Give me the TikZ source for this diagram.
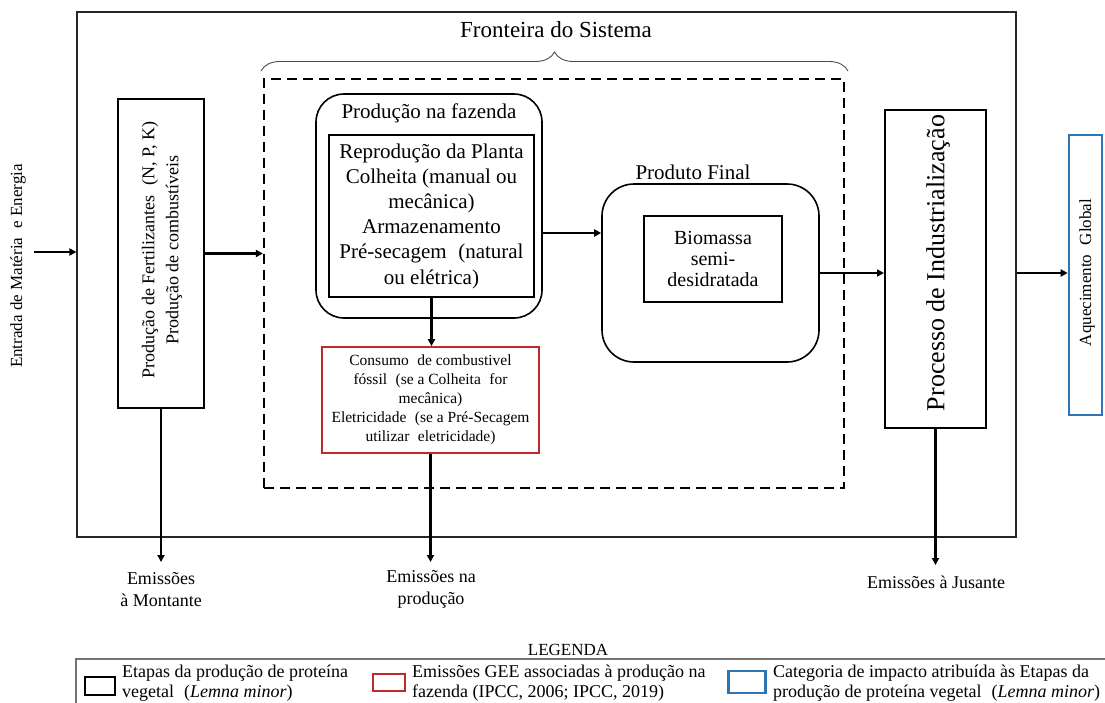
\documentclass[tikz,border=0pt]{standalone}
\usepackage{fontspec}
\setmainfont{Liberation Serif}
\usetikzlibrary{arrows.meta,decorations.pathreplacing,calc}
\definecolor{redbox}{RGB}{192,40,45}
\definecolor{bluebox}{RGB}{46,117,182}
\newcommand{\fsz}[2]{\fontsize{#1}{#2}\selectfont}
\newcommand{\wsp}{\hspace{0.3em}}
\tikzset{
  boxA/.style={draw=black, line width=2pt, inner sep=0pt},
  roundA/.style={draw=black, line width=1.6pt, rounded corners=28pt, inner sep=0pt},
  redA/.style={draw=redbox, line width=1.8pt, inner sep=0pt},
  blueA/.style={draw=bluebox, line width=2.6pt, inner sep=0pt},
  arr/.style={line width=2.4pt, -{Triangle[length=7pt,width=7pt]}},
  txt/.style={inner sep=0pt, align=center},
}
\begin{document}
\begin{tikzpicture}[x=1pt,y=-1pt]
\useasboundingbox (0,0) rectangle (1105,702);
\fill[white] (0,0) rectangle (1105,702);

% outer system box
\node[draw=black!85, line width=1.1pt, inner sep=0pt, minimum width=939pt, minimum height=525pt] (outer) at (546.5,274.5) {};

% title and brace
\node[txt, font=\fsz{23}{27}] (front) at (556,30) {Fronteira do Sistema};
\draw[black!70, line width=0.9pt, decorate, decoration={brace, amplitude=19pt}] (261,71) -- (848,71);

% dashed boundary
\node[draw=black, line width=2.2pt, dash pattern=on 10pt off 6pt, inner sep=0pt, minimum width=580pt, minimum height=409pt] (dashed) at (554,283.5) {};

% input text
\node[txt, rotate=90, font=\fsz{17}{20}] (entrada) at (18,266) {Entrada de Matéria\wsp{} e Energia};
\coordinate (entr) at (34,252);

% fertiliser box
\node[boxA, minimum width=86pt, minimum height=309pt] (fert) at (161,253.5) {};
\node[txt, rotate=90, font=\fsz{18}{24}] (fertT) at (162,250) {Produção de Fertilizantes\wsp{} (N, P, K)\\Produção de combustíveis};

% production at the farm
\node[roundA, minimum width=226pt, minimum height=224pt] (prod) at (429,206) {};
\node[txt, font=\fsz{21}{25}] (prodT) at (429,113) {Produção na fazenda};
\node[boxA, minimum width=205pt, minimum height=162pt, align=center, font=\fsz{21}{25.2}] (inner) at (431.5,216) {Reprodução da Planta\\Colheita (manual ou\\mecânica)\\Armazenamento\\Pré-secagem\wsp{} (natural\\ou elétrica)};

% red emissions box
\node[redA, minimum width=217pt, minimum height=106pt, align=center, font=\fsz{15.5}{19}] (red) at (430.5,400) {Consumo\wsp{} de combustivel\\fóssil\wsp{} (se a Colheita\wsp{} for\\mecânica)\\Eletricidade\wsp{} (se a Pré-Secagem\\utilizar\wsp{} eletricidade)};

% final product
\node[roundA, rounded corners=32pt, minimum width=217pt, minimum height=178pt] (produto) at (710.5,273) {};
\node[txt, font=\fsz{21}{25}] (produtoT) at (693,172) {Produto Final};
\node[boxA, minimum width=138pt, minimum height=86pt, align=center, font=\fsz{20}{21}] (bio) at (713,259) {Biomassa\\semi-\\desidratada};

% industrialisation
\node[boxA, minimum width=101pt, minimum height=318pt] (proc) at (935.5,269) {};
\node[txt, rotate=90, font=\fsz{26}{30}] (procT) at (938,263) {Processo de Industrialização};

% global warming
\node[blueA, minimum width=33pt, minimum height=280pt] (aq) at (1085.5,275) {};
\node[txt, rotate=90, font=\fsz{17}{20}] (aqT) at (1087,272.5) {Aquecimento\wsp{} Global};

% emission labels
\node[txt, font=\fsz{18}{22}] (emM) at (161,590) {Emissões\\à Montante};
\node[txt, font=\fsz{18}{22}] (emP) at (431,589) {Emissões na\\produção};
\node[txt, font=\fsz{18}{22}] (emJ) at (936,582) {Emissões à Jusante};
\coordinate (eM) at (161,562);
\coordinate (eP) at (431,562);
\coordinate (eJ) at (936,565);
\coordinate (pa) at (0,233);

% connectors
\draw[arr] (entr) -- (entr -| outer.west);
\draw[arr] (fert.east) -- (fert.east -| dashed.west);
\draw[arr] (prod.east |- pa) -- (produto.west |- pa);
\draw[arr] (produto.east) -- (produto.east -| proc.west);
\draw[arr] (outer.east |- produto.east) -- (aq.west |- produto.east);
\draw[arr] (inner.south) -- (inner.south |- red.north);
\draw[arr] (red.south) -- (red.south |- eP);
\draw[arr] (fert.south) -- (fert.south |- eM);
\draw[arr] (proc.south) -- (proc.south |- eJ);

% legend
\node[txt, font=\fsz{17}{20}] (legT) at (568,650) {LEGENDA};
\draw[black!55, line width=1.6pt] (1110,659) -- (76,659) -- (76,710);
\node[draw=black, line width=2pt, inner sep=0pt, minimum width=30pt, minimum height=18pt] (lk1) at (100,685.5) {};
\node[txt, anchor=west, align=left, font=\fsz{18}{20}] (lt1) at (122,683) {Etapas da produção de proteína\\vegetal\wsp{} (\textit{Lemna minor})};
\node[draw=redbox, line width=2pt, inner sep=0pt, minimum width=32pt, minimum height=17pt] (lk2) at (389,682.5) {};
\node[txt, anchor=west, align=left, font=\fsz{18}{20}] (lt2) at (412,683) {Emissões GEE associadas à produção na\\fazenda (IPCC, 2006; IPCC, 2019)};
\node[draw=bluebox, line width=2.6pt, inner sep=0pt, minimum width=37pt, minimum height=22pt] (lk3) at (747,682) {};
\node[txt, anchor=west, align=left, font=\fsz{18}{20}] (lt3) at (773,683) {Categoria de impacto atribuída às Etapas da\\produção de proteína vegetal\wsp{} (\textit{Lemna minor})};
\end{tikzpicture}
\end{document}
